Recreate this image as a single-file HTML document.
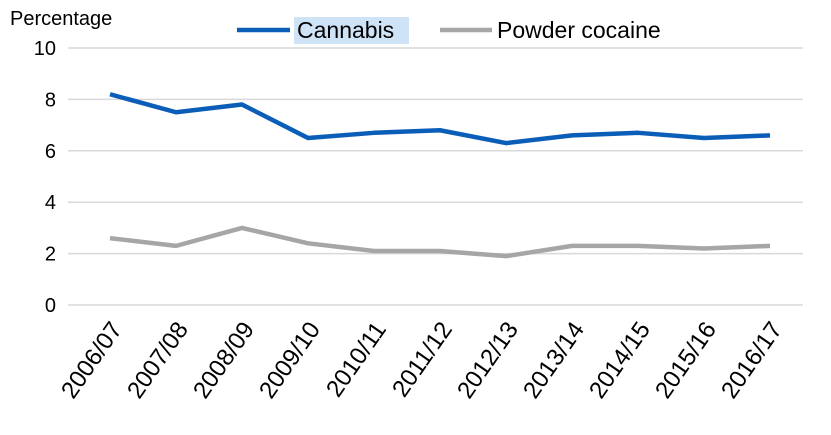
<!DOCTYPE html>
<html><head><meta charset="utf-8"><style>
body{margin:0;background:#fff;font-family:"Liberation Sans",Arial,sans-serif}
svg text{font-family:"Liberation Sans",Arial,sans-serif;fill:#000}
</style></head><body>
<svg id="c" width="831" height="430"></svg>
<script>
const categories=["2006/07","2007/08","2008/09","2009/10","2010/11","2011/12","2012/13","2013/14","2014/15","2015/16","2016/17"];
const cannabis=[8.2,7.5,7.8,6.5,6.7,6.8,6.3,6.6,6.7,6.5,6.6];
const cocaine=[2.6,2.3,3.0,2.4,2.1,2.1,1.9,2.3,2.3,2.2,2.3];
const yTicks=[0,2,4,6,8,10];
const NS="http://www.w3.org/2000/svg";
const svg=document.getElementById('c');
const x0=110,xStep=66,yTop=48,yBot=305,yMax=10;
const xs=i=>x0+i*xStep;
const ys=v=>yBot-(v/yMax)*(yBot-yTop);
function mk(t,a,p){const e=document.createElementNS(NS,t);for(const k in a)e.setAttribute(k,a[k]);(p||svg).appendChild(e);return e;}
yTicks.forEach(v=>{
  const g=mk('line',{x1:68,x2:803,y1:ys(v),y2:ys(v),stroke:'#d9d9d9','stroke-width':1.5});
  
  
  const t=mk('text',{x:56,y:ys(v)+7,'text-anchor':'end','font-size':20});
  t.textContent=v;
  
  
});
const yt=mk('text',{x:10,y:25,'font-size':20});yt.textContent='Percentage';


categories.forEach((c,i)=>{
  const t=mk('text',{x:0,y:0,'text-anchor':'end','font-size':24,transform:`translate(${xs(i)+13},${yBot+24}) rotate(-55)`});
  t.textContent=c;
  
  
});
function series(vals,col,name){
  const p=mk('polyline',{points:vals.map((v,i)=>xs(i)+','+ys(v)).join(' '),fill:'none',stroke:col,'stroke-width':4.5,'stroke-linejoin':'round'});
  
  
}
series(cocaine,'#a6a6a6','powder-cocaine-line');
series(cannabis,'#0b5eb8','cannabis-line');
const l1=mk('line',{x1:237,x2:290,y1:30,y2:30,stroke:'#0b5eb8','stroke-width':4.5});

const hb=mk('rect',{x:294,y:17,width:115,height:27,fill:'#cfe3f7'});

const lt1=mk('text',{x:297,y:38,'font-size':23});lt1.textContent='Cannabis';

const l2=mk('line',{x1:440,x2:492,y1:30,y2:30,stroke:'#a6a6a6','stroke-width':4.5});

const lt2=mk('text',{x:497,y:38,'font-size':23});lt2.textContent='Powder cocaine';

</script>
</body></html>
